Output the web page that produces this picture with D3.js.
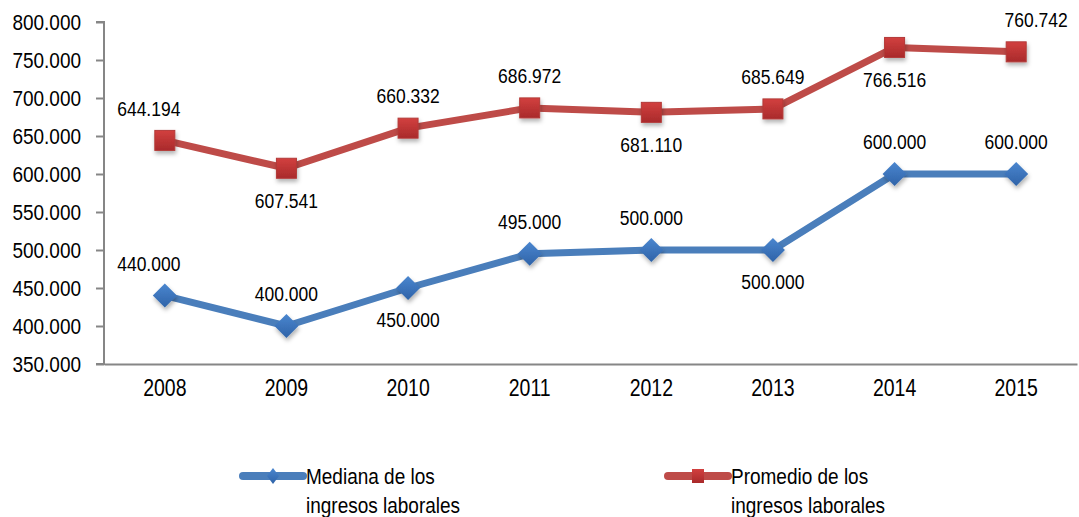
<!DOCTYPE html>
<html>
<head>
<meta charset="utf-8">
<script src="https://cdn.jsdelivr.net/npm/d3@7"></script>
<style>
body { margin:0; background:#fff; }
svg text {
  font-family: "Liberation Sans", Arial, sans-serif; fill:#000;
  transform-box: fill-box; transform-origin: center; transform: scaleY(1.2);
}
</style>
</head>
<body>
<div id="chart"></div>
<script>
// data
var years = ['2008','2009','2010','2011','2012','2013','2014','2015'];
var mediana = [440000, 400000, 450000, 495000, 500000, 500000, 600000, 600000];
var promedio = [644194, 607541, 660332, 686972, 681110, 685649, 766516, 760742];
var yTicks = [350000, 400000, 450000, 500000, 550000, 600000, 650000, 700000, 750000, 800000];
// where each data label sits: 1 = above the point, -1 = below
var medianaSide = [1, 1, -1, 1, 1, -1, 1, 1];
var promedioSide = [1, -1, 1, 1, -1, 1, -1, 1];
var seriesNames = ['Mediana de los|ingresos laborales', 'Promedio de los|ingresos laborales'];

var W = 1079, H = 517;
var margin = {top:22, right:2, bottom:153, left:104};
var width = W - margin.left - margin.right;
var height = H - margin.top - margin.bottom;

var fmt = function(v) { return d3.format(',')(v).replace(/,/g, '.'); };

var svg = d3.select('#chart').append('svg')
    .attr('width', W).attr('height', H);

var defs = svg.append('defs');
var shadow = defs.append('filter').attr('id','shadow').attr('x','-50%').attr('y','-50%').attr('width','200%').attr('height','200%');
shadow.append('feDropShadow').attr('dx',1).attr('dy',3).attr('stdDeviation',2).attr('flood-color','#000').attr('flood-opacity',0.3);

function grad(id, c1, c2) {
  var g = defs.append('linearGradient').attr('id', id).attr('x1',0).attr('y1',0).attr('x2',0).attr('y2',1);
  g.append('stop').attr('offset','0%').attr('stop-color', c1);
  g.append('stop').attr('offset','100%').attr('stop-color', c2);
}
grad('gBlue', '#4a86cf', '#2f63a8');
grad('gRed', '#d2403f', '#a92a2b');

var g = svg.append('g').attr('transform','translate(' + margin.left + ',' + margin.top + ')');

var x = d3.scaleBand().domain(years).range([0, width]);
var y = d3.scaleLinear().domain([350000, 800000]).range([height, 0]);

// y axis
var yAxis = g.append('g')
    .call(d3.axisLeft(y).tickValues(yTicks).tickFormat(fmt).tickSize(8).tickPadding(15));
yAxis.selectAll('text').style('font-size','19px');

// x axis, ticks between categories
var xAxis = g.append('g')
    .attr('transform','translate(0,' + height + ')')
    .call(d3.axisBottom(x).tickSize(0).tickPadding(17));
xAxis.selectAll('text').style('font-size','19.5px');
var bounds = years.map(function(d) { return x(d); }).concat([width]);
xAxis.selectAll('.sep').data(bounds).enter().append('line')
    .attr('x1', function(d) { return d; }).attr('x2', function(d) { return d; })
    .attr('y1', 0).attr('y2', 7);

svg.selectAll('.domain, .tick line, .sep')
    .attr('stroke','#868686').attr('stroke-width', 2);
yAxis.select('.domain').attr('d', 'M-8,' + height + 'H0V0H-8').attr('fill','none');

var line = d3.line()
    .x(function(d, i) { return x(years[i]) + x.bandwidth() / 2; })
    .y(function(d) { return y(d); });

var series = [
  {values: mediana, side: medianaSide, color:'#4a7ebb', fill:'url(#gBlue)', shape:'diamond'},
  {values: promedio, side: promedioSide, color:'#be4b48', fill:'url(#gRed)', shape:'square'}
];

function marker(sel, shape, fill, s) {
  if (shape === 'diamond') {
    sel.append('path')
      .attr('d', 'M0,' + (-s) + 'L' + s + ',0L0,' + s + 'L' + (-s) + ',0Z')
      .attr('fill', fill);
  } else {
    sel.append('rect')
      .attr('x', -s).attr('y', -s).attr('width', 2 * s).attr('height', 2 * s)
      .attr('fill', fill).attr('stroke', '#b33a38').attr('stroke-width', 1);
  }
}

series.forEach(function(s) {
  g.append('path')
    .datum(s.values)
    .attr('d', line)
    .attr('fill','none')
    .attr('stroke', s.color)
    .attr('stroke-width', 7)
    .attr('stroke-linejoin','round');

  s.values.forEach(function(v, i) {
    var m = g.append('g')
      .attr('transform','translate(' + (x(years[i]) + x.bandwidth() / 2) + ',' + y(v) + ')')
      .attr('filter','url(#shadow)');
    marker(m, s.shape, s.fill, s.shape === 'diamond' ? 12 : 10);
  });

  g.selectAll(null).data(s.values).enter().append('text')
    .attr('x', function(d, i) { return x(years[i]) + x.bandwidth() / 2 + (i === 0 ? -16 : (i === 7 && s.shape === 'square' ? 20 : 0)); })
    .attr('y', function(d, i) { return y(d) - s.side[i] * 32; })
    .attr('dy', '0.35em')
    .attr('text-anchor','middle')
    .style('font-size','17.5px')
    .text(function(d) { return fmt(d); });
});

// legend
var legendX = [243, 668];
series.forEach(function(s, k) {
  var lg = svg.append('g').attr('transform','translate(' + legendX[k] + ',476)');
  lg.append('line').attr('x1', 0).attr('x2', 60).attr('y1', 0).attr('y2', 0)
    .attr('stroke', s.color).attr('stroke-width', 8).attr('stroke-linecap','round');
  var m = lg.append('g').attr('transform','translate(30,0)');
  if (s.shape === 'diamond') {
    m.append('path').attr('d','M0,-8L6,0L0,8L-6,0Z').attr('fill','url(#gBlue)');
  } else {
    m.append('rect').attr('x',-6).attr('y',-7).attr('width',12).attr('height',14).attr('fill','url(#gRed)');
  }
  var lines = seriesNames[k].split('|');
  lg.selectAll('text').data(lines).enter().append('text')
    .attr('x', 63)
    .attr('y', function(d, i) { return i * 29; })
    .attr('dy','0.35em')
    .style('font-size','19px')
    .text(function(d) { return d; });
});
</script>
</body>
</html>
